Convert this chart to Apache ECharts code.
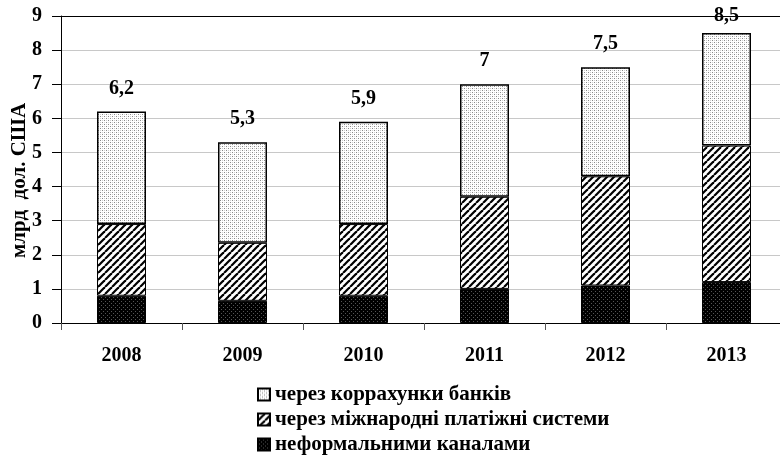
<!DOCTYPE html>
<html>
<head>
<meta charset="utf-8">
<script src="https://cdn.jsdelivr.net/npm/echarts@6/dist/echarts.min.js"></script>
<style>
  html, body { margin: 0; padding: 0; background: #fff; }
  #chart { width: 780px; height: 455px; }
</style>
</head>
<body>
<div id="chart"></div>
<script>
var years = ['2008', '2009', '2010', '2011', '2012', '2013'];
var informal = [0.8, 0.65, 0.8, 1.0, 1.1, 1.2];
var payments = [2.1, 1.7, 2.1, 2.7, 3.2, 4.0];
var banks = [3.3, 2.95, 3.0, 3.3, 3.2, 3.3];
var totals = ['6,2', '5,3', '5,9', '7', '7,5', '8,5'];
var seriesNames = ['через коррахунки банків', 'через міжнародні платіжні системи', 'неформальними каналами'];

// візерунки заливки
function makePattern(size, draw) {
    var c = document.createElement('canvas');
    c.width = size; c.height = size;
    var ctx = c.getContext('2d');
    draw(ctx, size);
    return { image: c, repeat: 'repeat' };
}
var dotted = makePattern(4, function (ctx) {
    ctx.fillStyle = '#fff'; ctx.fillRect(0, 0, 4, 4);
    ctx.fillStyle = '#8a8a8a';
    ctx.fillRect(0, 0, 1, 1); ctx.fillRect(2, 2, 1, 1);
    ctx.fillStyle = '#d0d0d0';
    ctx.fillRect(2, 0, 1, 1); ctx.fillRect(0, 2, 1, 1);
});
var hatched = makePattern(7, function (ctx, s) {
    ctx.fillStyle = '#fff'; ctx.fillRect(0, 0, s, s);
    ctx.strokeStyle = '#000'; ctx.lineWidth = 2.2;
    for (var k = -1; k <= 1; k++) {
        ctx.beginPath();
        ctx.moveTo(k * s, s); ctx.lineTo(k * s + s, 0);
        ctx.stroke();
    }
});
var dark = makePattern(4, function (ctx) {
    ctx.fillStyle = '#000'; ctx.fillRect(0, 0, 4, 4);
    ctx.fillStyle = '#555';
    ctx.fillRect(1, 1, 1, 1); ctx.fillRect(3, 3, 1, 1);
});

var font = '"Liberation Serif", "Times New Roman", serif';
var gridColors = ['#c8c8c8', '#c8c8c8', '#c8c8c8', '#c8c8c8', '#c8c8c8',
                  '#c8c8c8', '#c8c8c8', '#c8c8c8', '#c8c8c8', '#000'];
var myChart = echarts.init(document.getElementById('chart'));

// останній підпис притиснутий до верхнього краю, як в оригіналі
var bankData = banks.map(function (v, i) {
    return i === banks.length - 1 ? { value: v, label: { distance: 7 } } : v;
});

var option = {
    animation: false,
    textStyle: { fontFamily: font, color: '#000' },
    grid: { left: 61, right: -7, top: 16, bottom: 132, outerBoundsMode: 'none', containLabel: false },
    legend: {
        orient: 'vertical',
        left: 252,
        top: 379,
        height: 80,
        itemWidth: 12,
        itemHeight: 12,
        itemGap: 4,
        icon: 'rect',
        data: seriesNames,
        textStyle: { fontFamily: font, fontSize: 21, fontWeight: 'bold', color: '#000' }
    },
    xAxis: {
        type: 'category',
        data: years,
        axisLine: { lineStyle: { color: '#000', width: 1 } },
        axisTick: { show: true, inside: false, length: 7, lineStyle: { color: '#555' } },
        axisLabel: { fontFamily: font, fontSize: 20, fontWeight: 'bold', color: '#000', margin: 23 }
    },
    yAxis: {
        type: 'value',
        min: 0,
        max: 9,
        interval: 1,
        name: 'млрд  дол. США',
        nameLocation: 'middle',
        nameGap: 31,
        nameMoveOverlap: false,
        nameTextStyle: { fontFamily: font, fontSize: 21, fontWeight: 'bold', color: '#000', padding: [0, 22, 0, 0] },
        axisLine: { show: true, lineStyle: { color: '#000' } },
        axisTick: { show: true, length: 9, lineStyle: { color: '#000' } },
        axisLabel: { fontFamily: font, fontSize: 20, fontWeight: 'bold', color: '#000', margin: 19 },
        splitLine: { show: true, lineStyle: { color: gridColors } }
    },
    series: [
        {
            name: seriesNames[2],
            type: 'bar',
            stack: 'total',
            barWidth: 49,
            data: informal,
            itemStyle: { color: dark, borderColor: '#000', borderWidth: 1 }
        },
        {
            name: seriesNames[1],
            type: 'bar',
            stack: 'total',
            data: payments,
            itemStyle: { color: hatched, borderColor: '#000', borderWidth: 1 }
        },
        {
            name: seriesNames[0],
            type: 'bar',
            stack: 'total',
            data: bankData,
            itemStyle: { color: dotted, borderColor: '#000', borderWidth: 1.5 },
            label: {
                show: true,
                position: 'top',
                distance: 13,
                fontFamily: font,
                fontSize: 20,
                fontWeight: 'bold',
                color: '#000',
                formatter: function (p) { return totals[p.dataIndex]; }
            }
        }
    ]
};

myChart.setOption(option);
</script>
</body>
</html>
